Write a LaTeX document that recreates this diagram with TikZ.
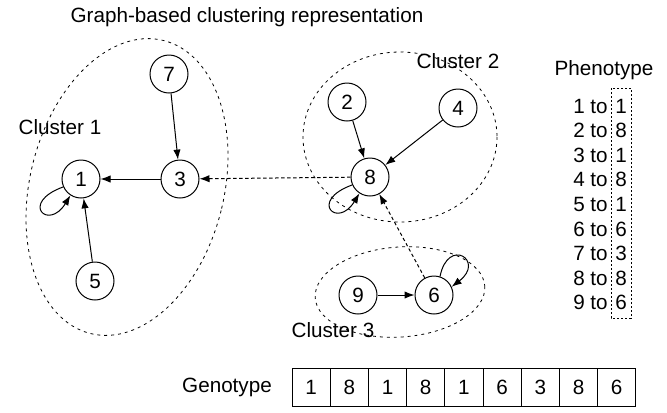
\documentclass[tikz,border=0pt]{standalone}
\usepackage{fontspec}
\setmainfont{Liberation Sans}
\usetikzlibrary{arrows.meta}

\begin{document}
\begin{tikzpicture}[x=0.75pt,y=0.75pt,yscale=-1,xscale=1,
  every node/.style={font=\fontsize{15.5}{18}\selectfont},
  vertex/.style={draw,circle,minimum size=28.5pt,inner sep=0pt,line width=0.75pt},
  label text/.style={inner sep=0.75pt},
  edge/.style={-{Latex[length=7.5pt,width=5.5pt]},line width=0.75pt},
  link/.style={edge,dash pattern=on 2.5pt off 2pt},
  cluster/.style={dash pattern=on 2.2pt off 3pt,line width=0.6pt},
  cell/.style={draw,minimum width=28.65pt,minimum height=28.5pt,inner sep=0pt,line width=0.75pt}]
\useasboundingbox (0,0) rectangle (667,412);

% Clusters
\draw [cluster,rotate around={14:(127,187)}] (127,187) ellipse [x radius=97,y radius=151];
\draw [cluster] (400,137) ellipse [x radius=97,y radius=85];
\draw [cluster,rotate around={-4:(400,292)}] (400,292) ellipse [x radius=85,y radius=45];

% Text Node
\node [label text] (title) at (247,17) {Graph-based clustering representation};
\node [label text] (c1) at (60,127) {Cluster 1};
\node [label text] (c2) at (458,61) {Cluster 2};
\node [label text] (c3) at (333,330) {Cluster 3};

% Vertices
\node [vertex,fill=white] (n1) at (81,179) {1};
\node [vertex,fill=white] (n3) at (180,179) {3};
\node [vertex,fill=white] (n7) at (169,74) {7};
\node [vertex,fill=white] (n5) at (95,281) {5};
\node [vertex,fill=white] (n2) at (347,102) {2};
\node [vertex,fill=white] (n4) at (458,108) {4};
\node [vertex,fill=white] (n8) at (370,177) {8};
\node [vertex,fill=white] (n9) at (358,295) {9};
\node [vertex,fill=white] (n6) at (434,295) {6};

% Links
\draw [edge] (n3) -- (n1);
\draw [edge] (n7) -- (n3);
\draw [edge] (n5) -- (n1);
\draw [edge] (n2) -- (n8);
\draw [edge] (n4) -- (n8);
\draw [edge] (n9) -- (n6);
\draw [link] (n8) -- (n3);
\draw [link] (n6) -- (n8);
% self loops
\draw [edge] (n1.204) .. controls +(-44,16) and +(-22,36) .. (n1.237);
\draw [edge] (n8.204) .. controls +(-44,16) and +(-22,36) .. (n8.237);
\draw [edge] (n6.72) .. controls +(8,-40) and +(34,-26) .. (n6.25);

% Phenotype
\node [label text] (pheno) at (604,70) {Phenotype};
\node [label text,anchor=east] (p1) at (609,106) {1 to};
\node [label text] (v1) at (621,106) {1};
\node [label text,anchor=east] (p2) at (609,130.6) {2 to};
\node [label text] (v2) at (621,130.6) {8};
\node [label text,anchor=east] (p3) at (609,155.2) {3 to};
\node [label text] (v3) at (621,155.2) {1};
\node [label text,anchor=east] (p4) at (609,179.8) {4 to};
\node [label text] (v4) at (621,179.8) {8};
\node [label text,anchor=east] (p5) at (609,204.4) {5 to};
\node [label text] (v5) at (621,204.4) {1};
\node [label text,anchor=east] (p6) at (609,229) {6 to};
\node [label text] (v6) at (621,229) {6};
\node [label text,anchor=east] (p7) at (609,253.6) {7 to};
\node [label text] (v7) at (621,253.6) {3};
\node [label text,anchor=east] (p8) at (609,278.2) {8 to};
\node [label text] (v8) at (621,278.2) {8};
\node [label text,anchor=east] (p9) at (609,302.8) {9 to};
\node [label text] (v9) at (621,302.8) {6};
\draw [dash pattern=on 1.5pt off 1.5pt,line width=0.6pt] (611,88) rectangle (631,318);

% Genotype
\node [label text] (geno) at (227,387) {Genotype};
\node [cell] (g1) at (311.1,387) {1};
\node [cell] (g2) at (349.3,387) {8};
\node [cell] (g3) at (387.5,387) {1};
\node [cell] (g4) at (425.7,387) {8};
\node [cell] (g5) at (463.9,387) {1};
\node [cell] (g6) at (502.1,387) {6};
\node [cell] (g7) at (540.3,387) {3};
\node [cell] (g8) at (578.5,387) {8};
\node [cell] (g9) at (616.7,387) {6};

\end{tikzpicture}
\end{document}
